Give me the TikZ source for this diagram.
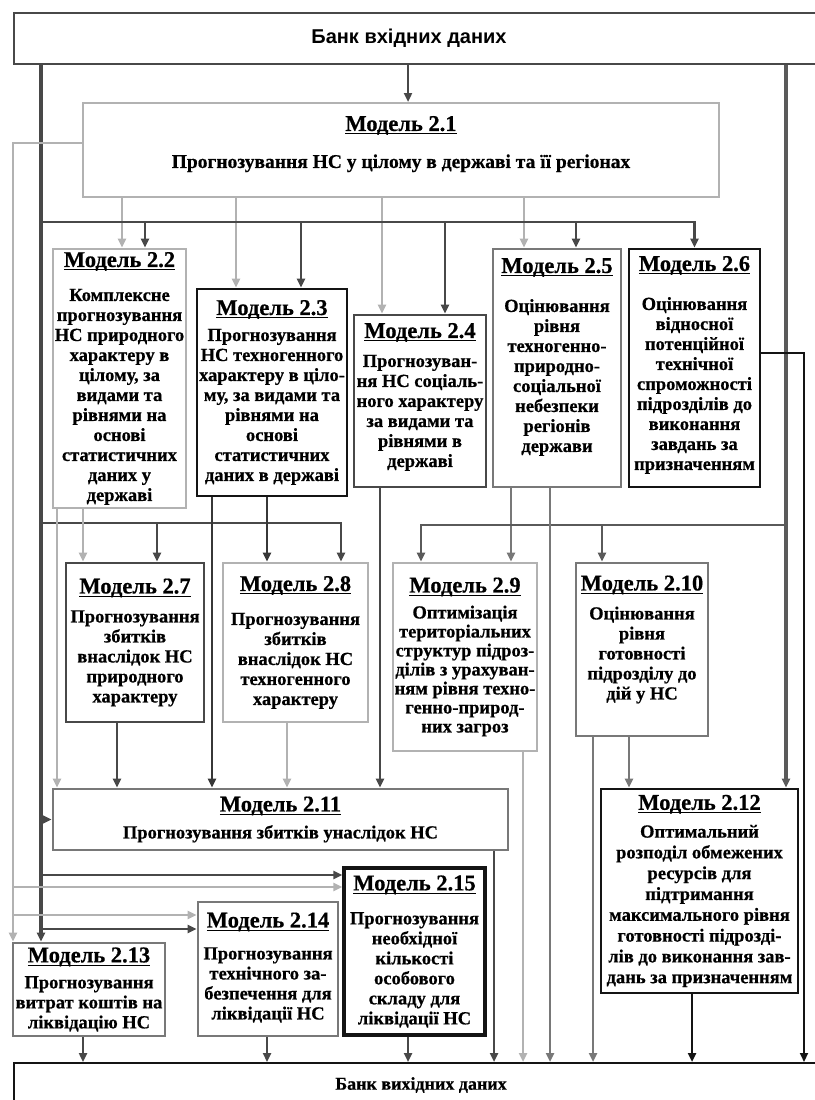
\documentclass[tikz,border=0pt]{standalone}
\usepackage{fontspec}
\setmainfont{Liberation Serif}[BoldFeatures={FakeBold=0.6}]
\newfontfamily\banksans{Liberation Sans}
\usepackage{tikz}
\usetikzlibrary{arrows.meta}
\definecolor{lightline}{RGB}{178,178,178}
\definecolor{midline}{RGB}{120,120,120}
\definecolor{darkline}{RGB}{72,72,72}
\definecolor{blackline}{RGB}{20,20,20}
\newcommand{\mtitle}[2]{{\fontsize{22.5}{20}\selectfont
  \setbox0\hbox{Модель #1}\rlap{\rule[-3.5pt]{\wd0}{1.3pt}}\box0}\\[#2pt]}

\begin{document}
\begin{tikzpicture}[x=1pt, y=-1pt,
    mbox/.style={draw, line width=2.6pt, align=center, inner xsep=0pt, inner ysep=0pt,
                 font=\fontsize{18.5}{20}\selectfont\bfseries},
    ltbox/.style={mbox, draw=lightline},
    mdbox/.style={mbox, draw=midline},
    dkbox/.style={mbox, draw=darkline},
    bkbox/.style={mbox, draw=blackline},
    bankbox/.style={draw, line width=2pt, anchor=north west, inner sep=0pt},
    conn/.style={line width=2.4pt, -{Triangle[length=9pt, width=8pt]}},
    ltconn/.style={conn, draw=lightline},
    mdconn/.style={conn, draw=midline},
    dkconn/.style={conn, draw=darkline},
    bkconn/.style={conn, draw=blackline},
    trunk/.style={line width=3.6pt}]
  \useasboundingbox (0,0) rectangle (814,1100);

  % data banks
  \node[bankbox, draw=darkline, minimum width=806pt, minimum height=51pt,
        font={\banksans\bfseries\fontsize{20}{20}\selectfont}]
    (inbank) at (13,12) {\kern-16pt Банк вхідних даних};
  \node[bankbox, draw=blackline, minimum width=814pt, minimum height=44pt,
        font={\bfseries\fontsize{18}{20}\selectfont}]
    (outbank) at (13,1062) {Банк вихідних даних};

  % first level
  \node[ltbox, line width=2pt, minimum width=636pt, minimum height=94pt, text depth=16pt,
        font={\fontsize{19.5}{20}\selectfont\bfseries}]
    (m21) at (401,150)
    {\mtitle{2.1}{17}Прогнозування НС у цілому в державі та її регіонах};

  % second level
  \node[ltbox, minimum width=133pt, minimum height=259pt] (m22) at (119.5,378.5)
    {\mtitle{2.2}{14}Комплексне\\ прогнозування\\ НС природного\\ характеру в\\ цілому, за\\
     видами та\\ рівнями на\\ основі\\ статистичних\\ даних у\\ державі};
  \node[bkbox, minimum width=150pt, minimum height=207pt] (m23) at (272,392.5)
    {\mtitle{2.3}{6}Прогнозування\\ НС техногенного\\ характеру в ціло-\\ му, за видами та\\
     рівнями на\\ основі\\ статистичних\\ даних в державі};
  \node[dkbox, minimum width=132pt, minimum height=172pt, text depth=12pt] (m24) at (420,401)
    {\mtitle{2.4}{9}Прогнозуван-\\ ня НС соціаль-\\ ного характеру\\ за видами та\\ рівнями в\\ державі};
  \node[mdbox, minimum width=128pt, minimum height=238pt, text depth=26pt] (m25) at (557,368)
    {\mtitle{2.5}{19}Оцінювання\\ рівня\\ техногенно-\\ природно-\\ соціальної\\ небезпеки\\
     регіонів\\ держави};
  \node[bkbox, minimum width=131pt, minimum height=238pt, text depth=10pt] (m26) at (694.5,368)
    {\mtitle{2.6}{19}Оцінювання\\ відносної\\ потенційної\\ технічної\\ спроможності\\
     підрозділів до\\ виконання\\ завдань за\\ призначенням};

  % third level
  \node[dkbox, minimum width=138pt, minimum height=159pt] (m27) at (135,642.5)
    {\mtitle{2.7}{9}Прогнозування\\ збитків\\ внаслідок НС\\ природного\\ характеру};
  \node[ltbox, minimum width=145pt, minimum height=159pt] (m28) at (295.5,642.5)
    {\mtitle{2.8}{14}Прогнозування\\ збитків\\ внаслідок НС\\ техногенного\\ характеру};
  \node[ltbox, minimum width=144pt, minimum height=188pt,
        font={\fontsize{18.5}{19}\selectfont\bfseries}] (m29) at (465,657)
    {\mtitle{2.9}{7}Оптимізація\\ територіальних\\ структур підроз-\\ ділів з урахуван-\\
     ням рівня техно-\\ генно-природ-\\ них загроз};
  \node[mdbox, minimum width=132pt, minimum height=173pt, text depth=24pt] (m210) at (642,649.5)
    {\mtitle{2.10}{9}Оцінювання\\ рівня\\ готовності\\ підрозділу до\\ дій у НС};

  % fourth level
  \node[mdbox, minimum width=455pt, minimum height=61pt] (m211) at (280.5,819.5)
    {\mtitle{2.11}{7}Прогнозування збитків унаслідок НС};
  \node[bkbox, minimum width=197pt, minimum height=204pt,
        font={\fontsize{18.5}{20.8}\selectfont\bfseries}] (m212) at (699.5,891)
    {\mtitle{2.12}{7}Оптимальний\\ розподіл обмежених\\ ресурсів для\\ підтримання\\
     максимального рівня\\ готовності підрозді-\\ лів до виконання зав-\\ дань за призначенням};
  \node[mdbox, minimum width=152pt, minimum height=93pt] (m213) at (89,989.5)
    {\mtitle{2.13}{6}Прогнозування\\ витрат коштів на\\ ліквідацію НС};
  \node[mdbox, minimum width=140pt, minimum height=134pt, text depth=6pt] (m214) at (268,969)
    {\mtitle{2.14}{12}Прогнозування\\ технічного за-\\ безпечення для\\ ліквідації НС};
  \node[bkbox, line width=3.2pt, minimum width=141pt, minimum height=167pt] (m215) at (414.5,951.5)
    {\mtitle{2.15}{14}Прогнозування\\ необхідної\\ кількості\\ особового\\ складу для\\ ліквідації НС};

  % trunks and buses
  \coordinate (trunkL) at (13,0);
  \coordinate (trunkD) at (41,0);
  \coordinate (trunkR) at (786,0);
  \coordinate (ubus) at (41,222);
  \coordinate (lbus) at (41,523);
  \coordinate (rbus) at (786,525);

  \draw[dkconn] (inbank.south -| 408,0) -- (m21.north -| 408,0);
  \draw[dkconn, trunk] (inbank.south -| trunkD) -- (m213.north -| trunkD);
  \draw[mdconn, trunk, draw=midline!75!black] (inbank.south -| trunkR) -- (m212.north -| trunkR);
  \draw[ltconn] (m21.west |- 0,143) -| (m213.north -| trunkL);

  % from model 2.1 and the upper bus
  \foreach \x/\m in {122/m22, 236/m23, 382/m24, 524/m25}
    \draw[ltconn] (m21.south -| \x,0) -- (\m.north -| \x,0);
  \draw[dkconn] (ubus) -| (m26.north);
  \foreach \x/\m in {145/m22, 301/m23, 445/m24, 576/m25}
    \draw[dkconn] (ubus -| \x,0) -- (\m.north -| \x,0);

  % into the third level
  \draw[dkconn] (lbus) -| (m28.north -| 341,0);
  \draw[dkconn] (lbus -| 157,0) -- (m27.north -| 157,0);
  \draw[ltconn] (m22.south -| 83,0) -- (m27.north -| 83,0);
  \draw[dkconn, draw=blackline!85] (m23.south -| 267,0) -- (m28.north -| 267,0);
  \draw[mdconn] (m25.south -| 511,0) -- (m29.north -| 511,0);
  \draw[mdconn, draw=midline!75!black] (rbus) -| (m29.north -| 421,0);
  \draw[mdconn, draw=midline!75!black] (rbus -| 602,0) -- (m210.north -| 602,0);

  % into model 2.11
  \draw[ltconn] (m22.south -| 57,0) -- (m211.north -| 57,0);
  \draw[dkconn] (m27.south -| 117,0) -- (m211.north -| 117,0);
  \draw[dkconn, draw=blackline!85] (m23.south -| 212,0) -- (m211.north -| 212,0);
  \draw[ltconn] (m28.south -| 287,0) -- (m211.north -| 287,0);
  \draw[dkconn] (m24.south -| 380,0) -- (m211.north -| 380,0);
  \draw[dkconn] (trunkD |- m211.west) -- (m211.west);

  % into models 2.12, 2.14, 2.15
  \draw[mdconn] (m210.south -| 629,0) -- (m212.north -| 629,0);
  \draw[dkconn] (trunkD |- 0,875) -- (m215.west |- 0,875);
  \draw[ltconn] (trunkL |- 0,887) -- (m215.west |- 0,887);
  \draw[ltconn] (trunkL |- 0,915) -- (m214.west |- 0,915);
  \draw[dkconn] (trunkD |- 0,929) -- (m214.west |- 0,929);

  % into the output bank
  \foreach \x/\m in {83/m213, 267/m214, 408/m215, 494/m211}
    \draw[dkconn] (\m.south -| \x,0) -- (outbank.north -| \x,0);
  \draw[ltconn] (m29.south -| 523,0) -- (outbank.north -| 523,0);
  \draw[mdconn] (m25.south -| 550,0) -- (outbank.north -| 550,0);
  \draw[mdconn] (m210.south -| 593,0) -- (outbank.north -| 593,0);
  \draw[bkconn] (m212.south -| 692,0) -- (outbank.north -| 692,0);
  \draw[bkconn, line width=2pt] (m26.east |- 0,353) -| (outbank.north -| 804,0);
\end{tikzpicture}
\end{document}
